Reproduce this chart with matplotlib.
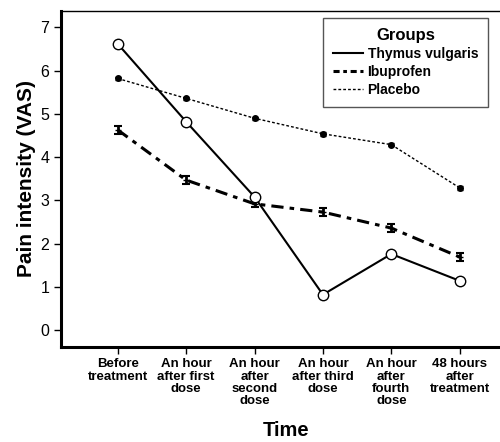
import numpy as np
import matplotlib.pyplot as plt
from matplotlib.lines import Line2D

plt.rcParams['font.family'] = ['Liberation Sans', 'DejaVu Sans']

times = ["Before\ntreatment", "An hour\nafter first\ndose", "An hour\nafter\nsecond\ndose",
         "An hour\nafter third\ndose", "An hour\nafter\nfourth\ndose", "48 hours\nafter\ntreatment"]
thymus = [6.62, 4.82, 3.08, 0.82, 1.76, 1.14]
ibuprofen = [4.63, 3.47, 2.92, 2.73, 2.36, 1.69]
ibuprofen_err = [0.09, 0.09, 0.08, 0.09, 0.09, 0.09]
placebo = [5.82, 5.36, 4.90, 4.54, 4.29, 3.29]
placebo_err = [0.04, 0.04, 0.04, 0.04, 0.04, 0.04]

x = np.arange(len(times))

fig = plt.figure(figsize=(5, 4.42), dpi=100)
ax = fig.add_axes([0.122, 0.215, 0.9, 0.761])

ax.errorbar(x, placebo, yerr=placebo_err, color='black', linestyle=(0, (2, 1.5)), linewidth=1,
            marker='o', markersize=4, capsize=2, elinewidth=1, label='Placebo', zorder=2)
ax.errorbar(x, ibuprofen, yerr=ibuprofen_err, color='black', linestyle=(0, (4, 2, 1.5, 2)), linewidth=2.2,
            marker='_', markersize=5, capsize=3, elinewidth=2, capthick=1.5, label='Ibuprofen', zorder=3)
ax.plot(x, thymus, color='black', linewidth=1.5, marker='o', markersize=7.5,
        markerfacecolor='white', markeredgecolor='black', markeredgewidth=1, label='Thymus vulgaris', zorder=4)

ax.set_xlim(-0.83, 5.75)
ax.set_ylim(-0.39, 7.39)
ax.set_xticks(x)
ax.set_xticklabels(times, fontsize=9.5, fontweight='bold', linespacing=1.05)
ax.set_yticks(range(0, 8))
ax.tick_params(axis='y', labelsize=11.5, length=5, width=1)
ax.tick_params(axis='x', length=5, width=1, pad=3)

ax.spines['left'].set_linewidth(2.2)
ax.spines['bottom'].set_linewidth(2.2)
ax.spines['top'].set_linewidth(1)
ax.spines['right'].set_visible(False)

ax.set_ylabel('Pain intensity (VAS)', fontsize=15, fontweight='bold', labelpad=3)
ax.set_xlabel('Time', fontsize=14.5, fontweight='bold', labelpad=10)

h = [Line2D([], [], color='black', linewidth=1.5),
     Line2D([], [], color='black', linewidth=2.2, linestyle=(0, (2, 1.2, 1.2, 1.2))),
     Line2D([], [], color='black', linewidth=1, linestyle=(0, (2, 1.5)))]
leg = ax.legend(h, ['Thymus vulgaris', 'Ibuprofen', 'Placebo'], title='Groups',
                loc='upper right', bbox_to_anchor=(0.958, 0.99), fancybox=False, framealpha=1,
                edgecolor='#555555', prop={'weight': 'bold', 'size': 10},
                title_fontproperties={'weight': 'bold', 'size': 12},
                handlelength=2.2, handletextpad=0.3, labelspacing=0.3, borderpad=0.7,
                borderaxespad=0.3)
leg.get_frame().set_linewidth(1)

fig.savefig('out.png', dpi=100)
